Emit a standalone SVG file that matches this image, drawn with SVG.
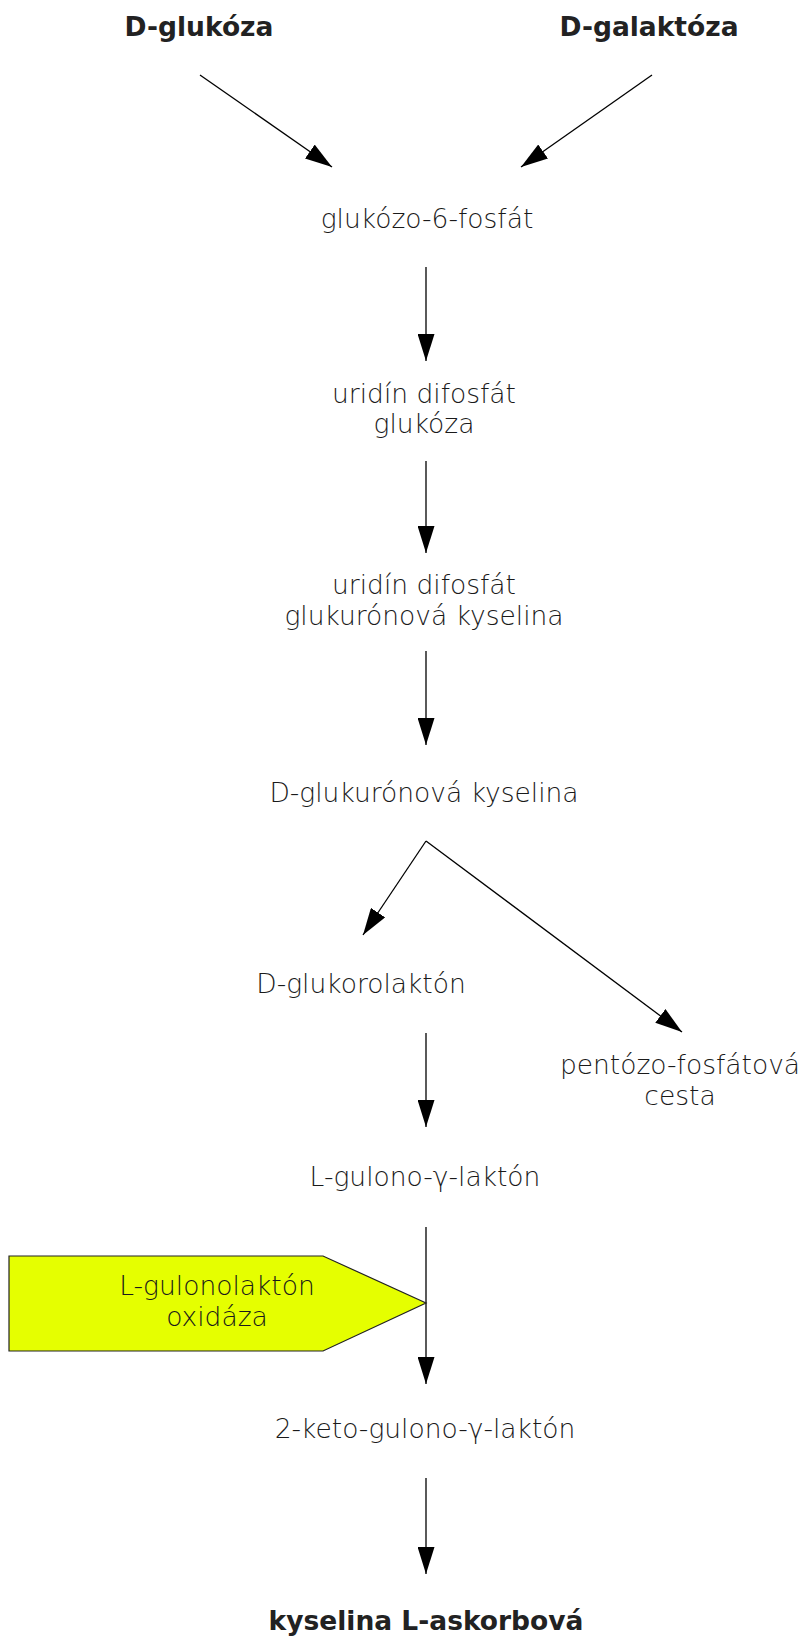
<svg xmlns="http://www.w3.org/2000/svg" width="807" height="1637" viewBox="0 0 807 1637">
<style>
.t{font-family:"DejaVu Sans","Liberation Sans",sans-serif;font-weight:200;font-size:26.5px;fill:#1a1a1a;text-anchor:middle}
.b{font-family:"DejaVu Sans","Liberation Sans",sans-serif;font-weight:bold;font-size:26.5px;fill:#222;text-anchor:middle}
.c{stroke:#000;stroke-width:1.3;fill:none}
</style>
<defs>
<marker id="ah" markerUnits="userSpaceOnUse" viewBox="0 0 27 17" refX="27" refY="8.5" markerWidth="27" markerHeight="17" orient="auto">
<path d="M0,0 L27,8.5 L0,17 Z" fill="#000"/>
</marker>
</defs>
<rect width="807" height="1637" fill="#fff"/>
<g id="connectors">
<line class="c" x1="200" y1="75" x2="332" y2="167" marker-end="url(#ah)"/>
<line class="c" x1="652" y1="75" x2="521" y2="167" marker-end="url(#ah)"/>
<line class="c" x1="426" y1="267" x2="426" y2="361" marker-end="url(#ah)"/>
<line class="c" x1="426" y1="461" x2="426" y2="553" marker-end="url(#ah)"/>
<line class="c" x1="426" y1="651" x2="426" y2="745" marker-end="url(#ah)"/>
<line class="c" x1="426" y1="841" x2="363" y2="935" marker-end="url(#ah)"/>
<line class="c" x1="426" y1="841" x2="682" y2="1032" marker-end="url(#ah)"/>
<line class="c" x1="426" y1="1033" x2="426" y2="1127" marker-end="url(#ah)"/>
<line class="c" x1="426" y1="1227" x2="426" y2="1384" marker-end="url(#ah)"/>
<line class="c" x1="426" y1="1478" x2="426" y2="1574" marker-end="url(#ah)"/>
</g>
<g id="n-dglukoza"><text class="b" x="199" y="36">D-glukóza</text></g>
<g id="n-dgalaktoza"><text class="b" x="649" y="36">D-galaktóza</text></g>
<g id="n-g6p"><text class="t" x="427" y="228">glukózo-6-fosfát</text></g>
<g id="n-udpg"><text class="t" x="424" y="403">uridín difosfát</text><text class="t" x="424" y="433">glukóza</text></g>
<g id="n-udpga"><text class="t" x="424" y="594">uridín difosfát</text><text class="t" x="424" y="625">glukurónová kyselina</text></g>
<g id="n-dga"><text class="t" x="424" y="802">D-glukurónová kyselina</text></g>
<g id="n-dgl"><text class="t" x="361" y="993">D-glukorolaktón</text></g>
<g id="n-pfc"><text class="t" x="680" y="1074">pentózo-fosfátová</text><text class="t" x="680" y="1105">cesta</text></g>
<g id="n-lgl"><text class="t" x="425" y="1186">L-gulono-γ-laktón</text></g>
<g id="n-enzyme">
<path d="M9,1256 L323,1256 L426,1303 L323,1351 L9,1351 Z" fill="#e5ff00" stroke="#222" stroke-width="1.2"/>
<text class="t" x="217" y="1295">L-gulonolaktón</text><text class="t" x="217" y="1326">oxidáza</text>
</g>
<g id="n-2kg"><text class="t" x="425" y="1438">2-keto-gulono-γ-laktón</text></g>
<g id="n-asc"><text class="b" x="426" y="1630">kyselina L-askorbová</text></g>
</svg>
